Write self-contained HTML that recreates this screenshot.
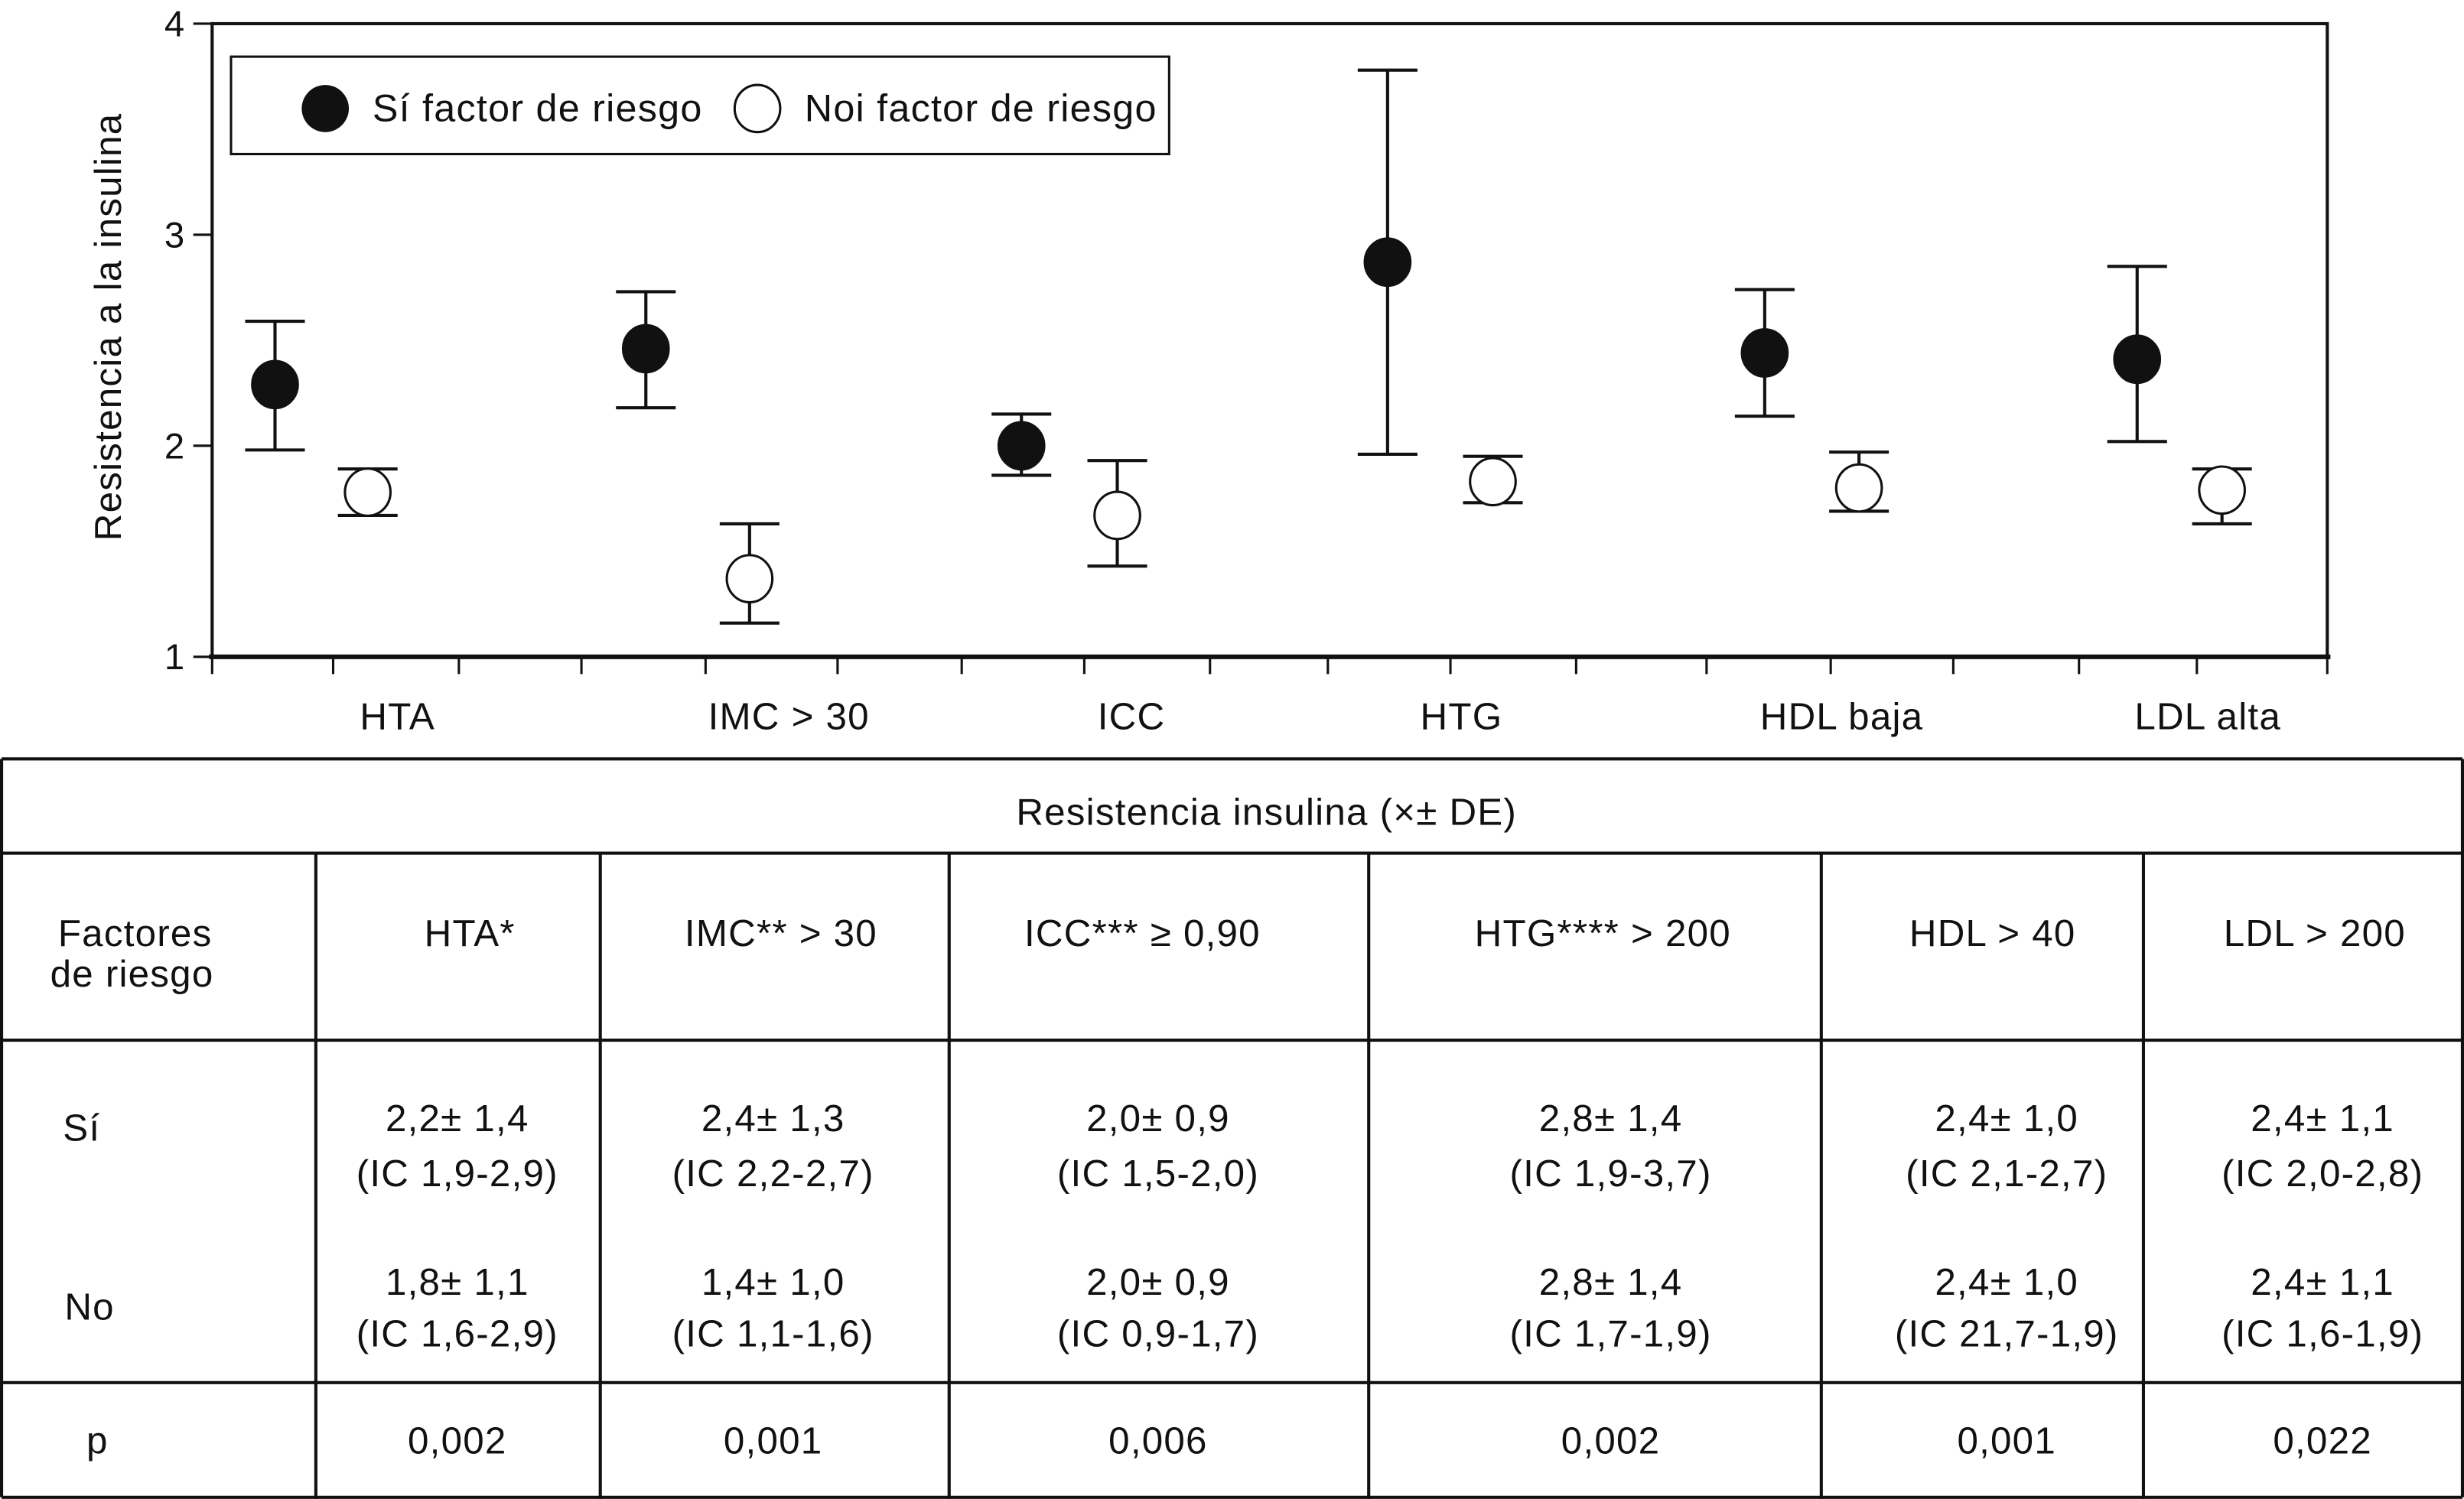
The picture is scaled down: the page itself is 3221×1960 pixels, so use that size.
<!DOCTYPE html>
<html><head><meta charset="utf-8"><style>
html,body{margin:0;padding:0;background:#fff}
svg{display:block}
text{font-family:"Liberation Sans",Arial,sans-serif;fill:#111;letter-spacing:0.6px}
</style></head><body>
<svg id="chart" width="3221" height="1960" viewBox="0 0 1568 954" xmlns="http://www.w3.org/2000/svg">
<g id="plot"></g>
<g id="table"></g>
</svg>
<script>
const categories=["HTA","IMC > 30","ICC","HTG","HDL baja","LDL alta"];
const siMean=[2.29,2.46,2.0,2.87,2.44,2.41];
const siUpper=[2.59,2.73,2.15,3.78,2.74,2.85];
const siLower=[1.98,2.18,1.86,1.96,2.14,2.02];
const noMean=[1.78,1.37,1.67,1.83,1.80,1.79];
const noUpper=[1.89,1.63,1.93,1.95,1.97,1.89];
const noLower=[1.67,1.16,1.43,1.73,1.69,1.63];
const yTicks=[1,2,3,4];
const NS="http://www.w3.org/2000/svg";
function mk(p,tag,attrs,txt){const e=document.createElementNS(NS,tag);for(const k in attrs)e.setAttribute(k,attrs[k]);if(txt!==undefined)e.textContent=txt;p.appendChild(e);return e;}
const L=135,R=1481,T=15,B=418,ymin=1,ymax=4;
function y(v){return B-(v-ymin)/(ymax-ymin)*(B-T);}
const siX=[175,411,650,883,1123,1360], noX=[234,477,711,950,1183,1414], labX=[253,502,720,930,1172,1405];
const plot=document.getElementById('plot');
let e=mk(plot,'path',{d:`M${L},${B} V${T} H${R} V${B}`,fill:'none',stroke:'#111','stroke-width':2});


e=mk(plot,'line',{x1:L-2,x2:R+2,y1:B,y2:B,stroke:'#111','stroke-width':3});


[135,212,292,370,449,533,612,690,770,845,923,1003,1086,1165,1243,1323,1398,1481].forEach(x=>{
  const t=mk(plot,'line',{x1:x,x2:x,y1:B,y2:B+11,stroke:'#111','stroke-width':1.5});
  
  
});
yTicks.forEach(v=>{
  const t=mk(plot,'line',{x1:L-12,x2:L,y1:y(v),y2:y(v),stroke:'#111','stroke-width':1.5});
  
  
  const l=mk(plot,'text',{x:L-17,y:y(v)+8,'text-anchor':'end','font-size':23},String(v));
  
  
});
e=mk(plot,'text',{transform:'translate(77,208) rotate(-90)','text-anchor':'middle','font-size':24},'Resistencia a la insulina');


categories.forEach((c,i)=>{
  const l=mk(plot,'text',{x:labX[i],y:464,'text-anchor':'middle','font-size':24},c);
  
  
});
function series(xs,mean,up,lo,filled,name){
  xs.forEach((x,i)=>{
    const g=mk(plot,'g',{});
    
    
    mk(g,'line',{x1:x,x2:x,y1:y(up[i]),y2:y(lo[i]),stroke:'#111','stroke-width':2});
    mk(g,'line',{x1:x-19,x2:x+19,y1:y(up[i]),y2:y(up[i]),stroke:'#111','stroke-width':2});
    mk(g,'line',{x1:x-19,x2:x+19,y1:y(lo[i]),y2:y(lo[i]),stroke:'#111','stroke-width':2});
    mk(g,'ellipse',{cx:x,cy:y(mean[i]),rx:14.5,ry:15,fill:filled?'#111':'#fff',stroke:'#111','stroke-width':1.5});
  });
}
series(siX,siMean,siUpper,siLower,true,'si-point');
series(noX,noMean,noUpper,noLower,false,'no-point');
const lg=mk(plot,'g',{});


mk(lg,'rect',{x:147,y:36,width:597,height:62,fill:'#fff',stroke:'#111','stroke-width':1.5});
mk(lg,'ellipse',{cx:207,cy:69,rx:15,ry:15,fill:'#111'});
mk(lg,'text',{x:237,y:77,'font-size':24.5},'Sí factor de riesgo');
mk(lg,'ellipse',{cx:482,cy:69,rx:14.5,ry:15,fill:'#fff',stroke:'#111','stroke-width':1.5});
mk(lg,'text',{x:512,y:77,'font-size':24.5},'Noi factor de riesgo');
const tb=document.getElementById('table');
const cols=[0,201,382,604,871,1159,1364,1568];
const rows=[483,543,662,880,954];
function ln(x1,y1,x2,y2){const l=mk(tb,'line',{x1,y1,x2,y2,stroke:'#111','stroke-width':2});}
ln(1,483,1567,483);ln(1,483,1,953);ln(1567,483,1567,953);ln(1,953,1567,953);
rows.slice(1,4).forEach(r=>ln(0,r,1568,r));
cols.slice(1,7).forEach(c=>ln(c,543,c,954));
function tx(x,yy,s,name){const t=mk(tb,'text',{x,y:yy,'text-anchor':'middle','font-size':24},s);}
tx(806,525,'Resistencia insulina (×± DE)','table-title');
tx(86,602,'Factores','row-header');tx(84,628,'de riesgo','row-header');
const heads=["HTA*","IMC** > 30","ICC*** ≥ 0,90","HTG**** > 200","HDL > 40","LDL > 200"];
const hx=[299,497,727,1020,1268,1473];
const si1=["2,2± 1,4","2,4± 1,3","2,0± 0,9","2,8± 1,4","2,4± 1,0","2,4± 1,1"];
const si2=["(IC 1,9-2,9)","(IC 2,2-2,7)","(IC 1,5-2,0)","(IC 1,9-3,7)","(IC 2,1-2,7)","(IC 2,0-2,8)"];
const no1=["1,8± 1,1","1,4± 1,0","2,0± 0,9","2,8± 1,4","2,4± 1,0","2,4± 1,1"];
const no2=["(IC 1,6-2,9)","(IC 1,1-1,6)","(IC 0,9-1,7)","(IC 1,7-1,9)","(IC 21,7-1,9)","(IC 1,6-1,9)"];
const pv=["0,002","0,001","0,006","0,002","0,001","0,022"];
const cx=[291,492,737,1025,1277,1478];
heads.forEach((h,i)=>tx(hx[i],602,h,'column-header'));
tx(52,726,'Sí','row-label-si');tx(57,840,'No','row-label-no');tx(62,925,'p','row-label-p');
cx.forEach((x,i)=>{tx(x,720,si1[i],'si-value');tx(x,755,si2[i],'si-ci');tx(x,824,no1[i],'no-value');tx(x,857,no2[i],'no-ci');tx(x,925,pv[i],'p-value');});
</script>
</body></html>
